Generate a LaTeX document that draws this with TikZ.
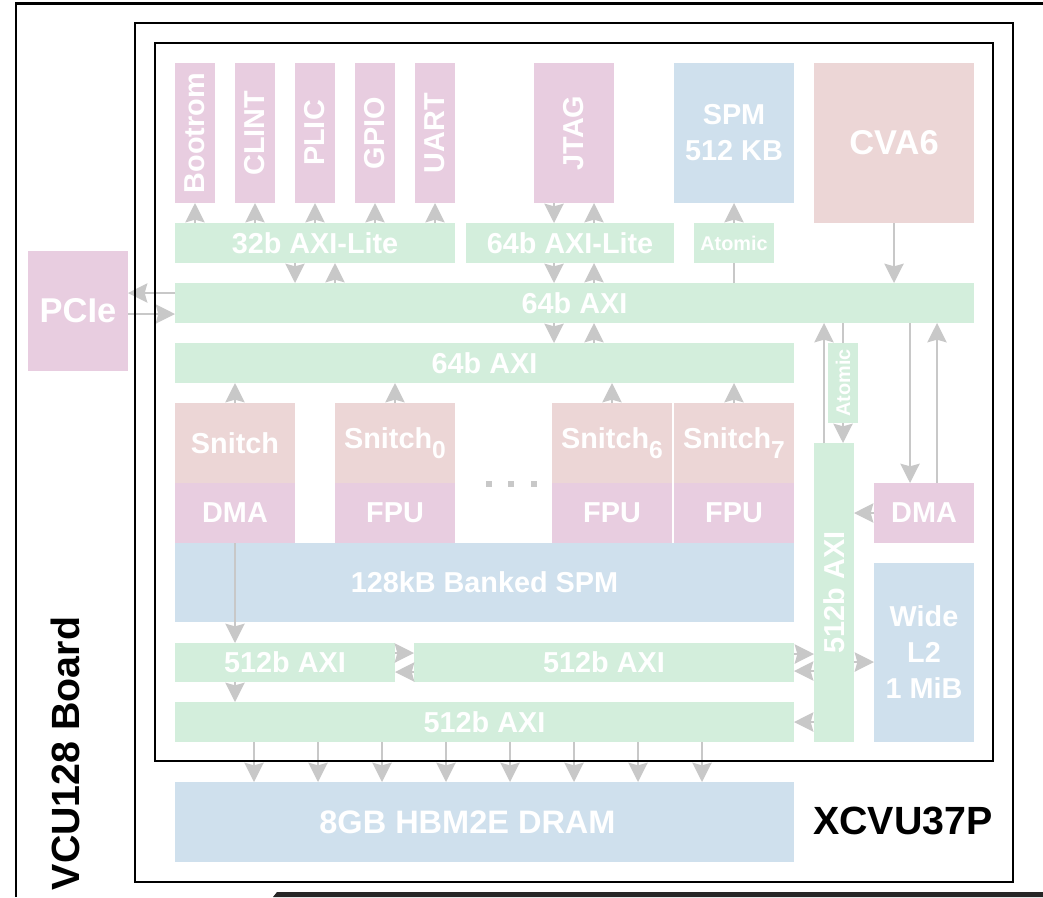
\documentclass[tikz,border=0pt]{standalone}
\usepackage{fontspec}
\setmainfont{Liberation Sans}
\usetikzlibrary{arrows.meta}
\definecolor{pinkc}{RGB}{232,205,224}
\definecolor{greenc}{RGB}{211,238,220}
\definecolor{bluec}{RGB}{207,224,237}
\definecolor{redc}{RGB}{236,214,214}
\definecolor{arrgray}{RGB}{200,200,200}
\newcommand\lblfont{\fontsize{16.4pt}{20.5pt}\selectfont\bfseries}
\newcommand\tinyfont{\fontsize{11.3pt}{13pt}\selectfont\bfseries}
\newcommand\cpufont{\fontsize{19.6pt}{23pt}\selectfont\bfseries}
\newcommand\boardfont{\fontsize{22.4pt}{26pt}\selectfont\bfseries}
\newcommand\idx[1]{\raisebox{-0.35em}{\fontsize{14pt}{14pt}\selectfont #1}}
\tikzset{
  sz/.style 2 args={minimum width=#1*0.02cm, minimum height=#2*0.02cm},
  blk/.style={inner sep=0pt, outer sep=0pt, text=white, font=\lblfont, align=center},
  pinkbox/.style={blk, fill=pinkc},
  greenbox/.style={blk, fill=greenc},
  bluebox/.style={blk, fill=bluec},
  redbox/.style={blk, fill=redc},
  arr/.style={draw=arrgray, line width=1.2pt, -{Stealth[length=11pt,width=11pt,inset=1.5pt]}},
  wire/.style={draw=arrgray, line width=1.2pt},
  frame/.style={draw=black, line width=1.3pt}
}
\begin{document}
\begin{tikzpicture}[x=0.02cm, y=-0.02cm]
  \useasboundingbox (0,0) rectangle (1043,897);

  \node[pinkbox, rotate=90, sz={140}{40}] (bootrom) at (195,133) {Bootrom};
  \node[pinkbox, rotate=90, sz={140}{40}] (clint) at (255,133) {CLINT};
  \node[pinkbox, rotate=90, sz={140}{40}] (plic) at (315,133) {PLIC};
  \node[pinkbox, rotate=90, sz={140}{40}] (gpio) at (375,133) {GPIO};
  \node[pinkbox, rotate=90, sz={140}{40}] (uart) at (435,133) {UART};
  \node[pinkbox, rotate=90, sz={140}{80}] (jtag) at (574,133) {JTAG};
  \node[bluebox, sz={120}{140}] (spm512) at (734,133) {SPM\\512 KB};
  \node[redbox, sz={160}{160}, font=\cpufont] (cva6) at (894,143) {CVA6};

  \node[greenbox, sz={280}{40}] (lite32) at (315,243) {32b AXI-Lite};
  \node[greenbox, sz={208}{40}] (lite64) at (570,243) {64b AXI-Lite};
  \node[greenbox, sz={80}{40}, font=\tinyfont] (atomtop) at (734,243) {Atomic};
  \node[greenbox, sz={799}{40}] (axi64) at (574.5,303) {64b AXI};
  \node[greenbox, sz={619}{40}] (axi64b) at (484.5,363) {64b AXI};
  \node[greenbox, rotate=90, sz={80}{30}, font=\tinyfont] (atomV) at (843,383) {Atomic};

  \node[pinkbox, sz={100}{120}, font=\cpufont] (pcie) at (78,311) {PCIe};

  \node[redbox, sz={120}{80}] (snitch) at (235,443) {Snitch};
  \node[pinkbox, sz={120}{60}] (dma) at (235,513) {DMA};
  \node[redbox, sz={120}{80}] (snitchA) at (395,443) {Snitch\idx{0}};
  \node[pinkbox, sz={120}{60}] (fpuA) at (395,513) {FPU};
  \node[redbox, sz={120}{80}] (snitchB) at (612,443) {Snitch\idx{6}};
  \node[pinkbox, sz={120}{60}] (fpuB) at (612,513) {FPU};
  \node[redbox, sz={120}{80}] (snitchC) at (734,443) {Snitch\idx{7}};
  \node[pinkbox, sz={120}{60}] (fpuC) at (734,513) {FPU};
  \foreach \x in {489,511,534}
    \fill[arrgray] (\x-3,481) rectangle ++(6,6);

  \node[bluebox, sz={619}{79}] (spm128) at (484.5,582.5) {128kB Banked SPM};
  \node[greenbox, sz={220}{39}] (axiL) at (285,662.5) {512b AXI};
  \node[greenbox, sz={380}{39}] (axiR) at (604,662.5) {512b AXI};
  \node[greenbox, sz={619}{40}] (axiB) at (484.5,722) {512b AXI};
  \node[greenbox, rotate=90, sz={299}{40}] (axiV) at (834,592.5) {512b AXI};
  \node[pinkbox, sz={100}{60}] (dmaR) at (924,513) {DMA};
  \node[bluebox, sz={100}{179}] (l2) at (924,652.5) {Wide\\L2\\1 MiB};
  \node[bluebox, sz={619}{80}, font=\fontsize{18.5pt}{22pt}\selectfont\bfseries] (dram) at (484.5,822) {8GB HBM2E DRAM\hspace{0.68cm}};

  \node[font=\boardfont] (xcvu) at (903,821) {XCVU37P};
  \node[font=\boardfont, rotate=90] (vcu) at (65,753.5) {VCU128 Board};

  \foreach \p in {bootrom,clint,plic,gpio,uart}
    \draw[arr] (lite32.north -| \p) -- (\p.west);
  \draw[arr] (lite32.south -| 295,0) -- (axi64.north -| 295,0);
  \draw[arr] (axi64.north -| 335,0) -- (lite32.south -| 335,0);
  \draw[arr] (jtag.west -| 554,0) -- (lite64.north -| 554,0);
  \draw[arr] (lite64.north -| 594,0) -- (jtag.west -| 594,0);
  \draw[arr] (lite64.south -| 554,0) -- (axi64.north -| 554,0);
  \draw[arr] (axi64.north -| 594,0) -- (lite64.south -| 594,0);
  \draw[wire] (axi64.north -| atomtop) -- (atomtop.south);
  \draw[arr] (atomtop.north) -- (spm512.south);
  \draw[arr] (cva6.south) -- (cva6.south |- axi64.north);
  \draw[arr] (axi64.west |- 0,293) -- (pcie.east |- 0,293);
  \draw[arr] (pcie.east |- 0,314) -- (axi64.west |- 0,314);
  \draw[arr] (axi64.south -| 554,0) -- (axi64b.north -| 554,0);
  \draw[arr] (axi64b.north -| 594,0) -- (axi64.south -| 594,0);
  \foreach \s in {snitch,snitchA,snitchB,snitchC}
    \draw[arr] (\s.north) -- (\s.north |- axi64b.south);
  \draw[arr] (axiV.east -| 824,0) -- (axi64.south -| 824,0);
  \draw[wire] (axi64.south -| atomV) -- (atomV.east);
  \draw[arr] (atomV.west) -- (atomV.west |- axiV.east);
  \draw[arr] (axi64.south -| 910,0) -- (dmaR.north -| 910,0);
  \draw[arr] (dmaR.north -| 937,0) -- (axi64.south -| 937,0);
  \draw[arr] (dmaR.west) -- (dmaR.west -| axiV.south);
  \draw[arr] (axiV.south |- 0,662) -- (l2.west |- 0,662);
  \draw[arr] (axiR.east |- 0,654) -- (axiV.north |- 0,654);
  \draw[arr] (axiV.north |- 0,671) -- (axiR.east |- 0,671);
  \draw[arr] (axiV.north |- axiB.east) -- (axiB.east);
  \draw[arr] (axiL.east |- 0,653) -- (axiR.west |- 0,653);
  \draw[arr] (axiR.west |- 0,672) -- (axiL.east |- 0,672);
  \draw[arr] (dma.south) -- (dma.south |- axiL.north);
  \draw[arr] (axiL.south -| dma) -- (axiB.north -| dma);
  \foreach \x in {254,318,382,446,510,574,638,702}
    \draw[arr] (axiB.south -| \x,0) -- (dram.north -| \x,0);

  \draw[frame] (16,897) -- (16,3.5) -- (1043,3.5);
  \draw[frame] (135,23.3) rectangle (1013,881.7);
  \draw[frame] (155,43) rectangle (993,761);
  \fill[black!85] (273,897) -- (277,892) -- (1043,892) -- (1043,897) -- cycle;
\end{tikzpicture}
\end{document}
